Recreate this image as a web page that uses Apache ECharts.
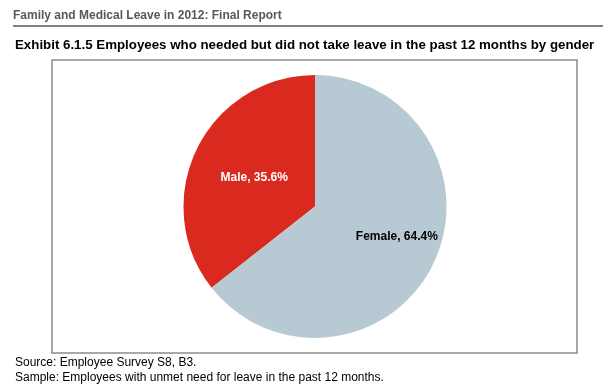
<!DOCTYPE html>
<html><head><meta charset="utf-8">
<script src="https://cdn.jsdelivr.net/npm/echarts@6/dist/echarts.min.js"></script>
<style>html,body{margin:0;padding:0;background:#fff}#c{width:603px;height:391px}</style>
</head><body><div id="c"></div>
<script>
const categories = ["Male", "Female"];
const values = [35.6, 64.4];
const colors = ["#DA291E", "#B7C9D3"];
const headerText = "Family and Medical Leave in 2012: Final Report";
const titleText = "Exhibit 6.1.5 Employees who needed but did not take leave in the past 12 months by gender";
const sourceText = "Source: Employee Survey S8, B3.";
const sampleText = "Sample: Employees with unmet need for leave in the past 12 months.";

const font = "'Liberation Sans', Arial, sans-serif";
const chart = echarts.init(document.getElementById('c'), null, {renderer: 'canvas'});
chart.setOption({
  animation: false,
  backgroundColor: '#fff',
  title: [
    {text: headerText, left: 13, top: 10, padding: 0, textStyle: {fontFamily: font, fontSize: 12, fontWeight: 'bold', color: '#595959'}},
    {text: titleText, left: 15, top: 39, padding: 0, textStyle: {fontFamily: font, fontSize: 13.3, fontWeight: 'bold', color: '#000'}},
    {text: sourceText, left: 15, top: 357, padding: 0, textStyle: {fontFamily: font, fontSize: 12, fontWeight: 'normal', color: '#000'}},
    {text: sampleText, left: 15, top: 372, padding: 0, textStyle: {fontFamily: font, fontSize: 12, fontWeight: 'normal', color: '#000'}}
  ],
  graphic: [
    {type: 'line', shape: {x1: 13, y1: 26, x2: 603, y2: 26}, style: {stroke: '#808080', lineWidth: 2}},
    {type: 'rect', shape: {x: 52, y: 60, width: 525, height: 293}, style: {fill: 'none', stroke: '#8c8c8c', lineWidth: 1.5}, z: -1}
  ],
  series: [{
    type: 'pie',
    center: [315, 206.5],
    radius: [0, 131.5],
    startAngle: 90,
    clockwise: false,
    silent: true,
    label: {
      show: true, position: 'inside', fontFamily: font, fontSize: 12, fontWeight: 'bold',
      formatter: p => p.name + ', ' + p.value.toFixed(1) + '%'
    },
    labelLine: {show: false},
    itemStyle: {borderWidth: 0},
    data: categories.map((c, i) => ({
      name: c, value: values[i],
      itemStyle: {color: colors[i]},
      label: i === 0 ? {color: '#fff', offset: [1, 1]} : {color: '#000', offset: [20, 0]}
    }))
  }]
});
</script></body></html>
